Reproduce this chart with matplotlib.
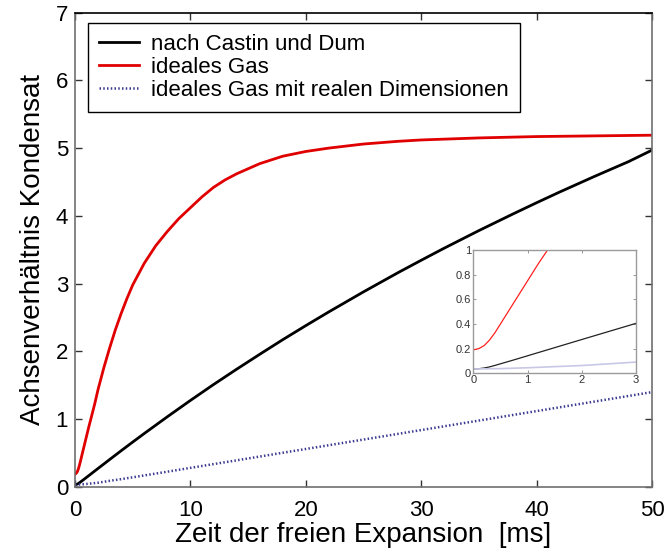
import matplotlib
matplotlib.use("Agg")
import matplotlib.pyplot as plt

plt.rcParams['font.family'] = ['Liberation Sans', 'DejaVu Sans']

# ---- data ----
t_red = [0, 0.1, 0.2, 0.3, 0.4, 0.5, 0.6, 0.8, 1.0, 1.2, 1.4, 1.7, 2, 2.5, 3, 3.5, 4,
         4.5, 5, 6, 7, 8, 9, 10, 11, 12, 13, 14, 16, 18, 20, 22, 25, 28, 30, 35, 40,
         45, 50]
v_red = [0.19, 0.20, 0.225, 0.27, 0.33, 0.40, 0.47, 0.61, 0.75, 0.89, 1.02, 1.22, 1.44,
         1.76, 2.05, 2.32, 2.56, 2.78, 2.98, 3.30, 3.56, 3.77, 3.96, 4.12, 4.28, 4.42,
         4.53, 4.62, 4.77, 4.88, 4.95, 5.00, 5.06, 5.10, 5.12, 5.15, 5.17, 5.18, 5.19]

t_black = [0, 0.1, 0.2, 0.3, 0.4, 0.5, 0.75, 1, 1.5, 2, 3, 4, 5, 6, 8, 10, 12, 14, 16,
           18, 20, 22, 25, 28, 30, 32, 35, 38, 40, 42, 45, 48, 50]
v_black = [0.035, 0.037, 0.043, 0.052, 0.064, 0.077, 0.109, 0.142, 0.208, 0.274, 0.405,
           0.535, 0.663, 0.789, 1.036, 1.277, 1.511, 1.737, 1.957, 2.173, 2.381, 2.584,
           2.879, 3.163, 3.345, 3.524, 3.783, 4.032, 4.194, 4.352, 4.581, 4.803, 4.97]

t_blue = [0, 0.5, 1, 1.5, 2, 3, 4, 5, 7.5, 10, 15, 20, 25, 30, 35, 40, 45, 50]
v_blue = [0.035, 0.038, 0.045, 0.054, 0.063, 0.091, 0.116, 0.143, 0.212, 0.282, 0.421,
          0.561, 0.70, 0.84, 0.98, 1.12, 1.26, 1.40]

labels = ["nach Castin und Dum", "ideales Gas", "ideales Gas mit realen Dimensionen"]
x_ticks = [0, 10, 20, 30, 40, 50]
y_ticks = [0, 1, 2, 3, 4, 5, 6, 7]
inset_x_ticks = [0, 1, 2, 3]
inset_y_ticks = [0, 0.2, 0.4, 0.6, 0.8, 1]
inset_y_labels = ["0", "0.2", "0.4", "0.6", "0.8", "1"]

# ---- figure ----
fig = plt.figure(figsize=(6.66, 5.59), dpi=100)
ax = fig.add_axes([0.1126, 0.1288, 0.8664, 0.8488])

ax.plot(t_black, v_black, color='black', lw=2.0, label=labels[0])
ax.plot(t_red, v_red, color='#e00000', lw=2.0, label=labels[1])
ax.plot(t_blue, v_blue, color='#3a3a90', lw=1.8, linestyle=(0, (0.6, 0.9)),
        label=labels[2])

ax.set_xlim(0, 50)
ax.set_ylim(0, 7)
ax.set_xticks(x_ticks)
ax.set_yticks(y_ticks)
ax.tick_params(direction='in', length=5, width=1, top=True, right=True,
               labelsize=16, color='#333333')
ax.tick_params(axis='x', pad=9)
ax.tick_params(axis='y', pad=5)
for side in ['left', 'right', 'bottom']:
    ax.spines[side].set_color('#707070')
    ax.spines[side].set_linewidth(1.2)
ax.spines['top'].set_color('black')
ax.spines['top'].set_linewidth(1.2)

ax.set_xlabel("Zeit der freien Expansion  [ms]", fontsize=20, labelpad=1)
ax.set_ylabel("Achsenverhältnis Kondensat", fontsize=20, labelpad=7)

leg = ax.legend(loc='upper left', bbox_to_anchor=(0.0225, 0.978), borderaxespad=0,
                fontsize=16, frameon=True, fancybox=False, framealpha=1,
                edgecolor='black', handlelength=1.8, handletextpad=0.55,
                borderpad=0.5, labelspacing=0.08)
leg.get_frame().set_linewidth(1.0)

# ---- inset ----
axi = fig.add_axes([0.7107, 0.3322, 0.2443, 0.2206])
axi.plot(t_black, v_black, color='#222222', lw=0.9)
axi.plot(t_red, v_red, color='#ff2020', lw=0.9)
axi.plot(t_blue, v_blue, color='#c8c8e6', lw=1.2)
axi.set_xlim(0, 3)
axi.set_ylim(0, 1)
axi.set_xticks(inset_x_ticks)
axi.set_yticks(inset_y_ticks)
axi.set_yticklabels(inset_y_labels)
axi.tick_params(direction='in', length=2.5, width=0.6, top=True, right=True,
                labelsize=8, pad=1.5, color='#888888', labelcolor='#333333')
for side in axi.spines:
    axi.spines[side].set_color('#9a9a9a')
    axi.spines[side].set_linewidth(1.0)

fig.savefig("out.png", dpi=100)
